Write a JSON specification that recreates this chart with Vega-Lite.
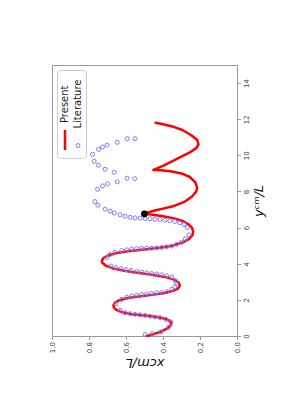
{
  "$schema": "https://vega.github.io/schema/vega-lite/v6.json",
  "width": 185,
  "height": 271,
  "autosize": {"type": "none"},
  "padding": {"left": 52, "top": 65, "right": 53, "bottom": 74},
  "background": "white",
  "config": {
    "view": {"stroke": "#999", "strokeWidth": 1},
    "axis": {
      "grid": false,
      "domainColor": "#999",
      "tickColor": "#999",
      "tickSize": 3.5,
      "labelFont": "DejaVu Sans",
      "labelFontSize": 7,
      "labelColor": "#444",
      "labelPadding": 2,
      "titleFont": "DejaVu Sans",
      "titleFontSize": 13,
      "titleFontStyle": "italic",
      "titleFontWeight": "normal",
      "titleColor": "#111"
    }
  },
  "datasets": {
    "present": [
      {"k": 0, "x": 0.49, "y": 0.0, "s": "Present"},
      {"k": 1, "x": 0.45, "y": 0.10, "s": "Present"},
      {"k": 2, "x": 0.41, "y": 0.25, "s": "Present"},
      {"k": 3, "x": 0.375, "y": 0.42, "s": "Present"},
      {"k": 4, "x": 0.357, "y": 0.60, "s": "Present"},
      {"k": 5, "x": 0.355, "y": 0.72, "s": "Present"},
      {"k": 6, "x": 0.365, "y": 0.85, "s": "Present"},
      {"k": 7, "x": 0.39, "y": 0.96, "s": "Present"},
      {"k": 8, "x": 0.43, "y": 1.05, "s": "Present"},
      {"k": 9, "x": 0.50, "y": 1.13, "s": "Present"},
      {"k": 10, "x": 0.57, "y": 1.21, "s": "Present"},
      {"k": 11, "x": 0.62, "y": 1.31, "s": "Present"},
      {"k": 12, "x": 0.65, "y": 1.43, "s": "Present"},
      {"k": 13, "x": 0.665, "y": 1.57, "s": "Present"},
      {"k": 14, "x": 0.668, "y": 1.70, "s": "Present"},
      {"k": 15, "x": 0.66, "y": 1.85, "s": "Present"},
      {"k": 16, "x": 0.635, "y": 1.98, "s": "Present"},
      {"k": 17, "x": 0.59, "y": 2.10, "s": "Present"},
      {"k": 18, "x": 0.52, "y": 2.20, "s": "Present"},
      {"k": 19, "x": 0.45, "y": 2.29, "s": "Present"},
      {"k": 20, "x": 0.39, "y": 2.38, "s": "Present"},
      {"k": 21, "x": 0.345, "y": 2.50, "s": "Present"},
      {"k": 22, "x": 0.318, "y": 2.64, "s": "Present"},
      {"k": 23, "x": 0.309, "y": 2.80, "s": "Present"},
      {"k": 24, "x": 0.315, "y": 2.96, "s": "Present"},
      {"k": 25, "x": 0.34, "y": 3.12, "s": "Present"},
      {"k": 26, "x": 0.39, "y": 3.27, "s": "Present"},
      {"k": 27, "x": 0.46, "y": 3.39, "s": "Present"},
      {"k": 28, "x": 0.54, "y": 3.50, "s": "Present"},
      {"k": 29, "x": 0.61, "y": 3.61, "s": "Present"},
      {"k": 30, "x": 0.67, "y": 3.74, "s": "Present"},
      {"k": 31, "x": 0.71, "y": 3.90, "s": "Present"},
      {"k": 32, "x": 0.728, "y": 4.05, "s": "Present"},
      {"k": 33, "x": 0.73, "y": 4.18, "s": "Present"},
      {"k": 34, "x": 0.72, "y": 4.33, "s": "Present"},
      {"k": 35, "x": 0.695, "y": 4.47, "s": "Present"},
      {"k": 36, "x": 0.65, "y": 4.59, "s": "Present"},
      {"k": 37, "x": 0.58, "y": 4.70, "s": "Present"},
      {"k": 38, "x": 0.50, "y": 4.79, "s": "Present"},
      {"k": 39, "x": 0.42, "y": 4.88, "s": "Present"},
      {"k": 40, "x": 0.35, "y": 5.00, "s": "Present"},
      {"k": 41, "x": 0.295, "y": 5.17, "s": "Present"},
      {"k": 42, "x": 0.258, "y": 5.38, "s": "Present"},
      {"k": 43, "x": 0.24, "y": 5.60, "s": "Present"},
      {"k": 44, "x": 0.237, "y": 5.78, "s": "Present"},
      {"k": 45, "x": 0.243, "y": 5.98, "s": "Present"},
      {"k": 46, "x": 0.26, "y": 6.17, "s": "Present"},
      {"k": 47, "x": 0.29, "y": 6.35, "s": "Present"},
      {"k": 48, "x": 0.34, "y": 6.51, "s": "Present"},
      {"k": 49, "x": 0.40, "y": 6.63, "s": "Present"},
      {"k": 50, "x": 0.455, "y": 6.71, "s": "Present"},
      {"k": 51, "x": 0.50, "y": 6.76, "s": "Present"},
      {"k": 52, "x": 0.455, "y": 6.92, "s": "Present"},
      {"k": 53, "x": 0.40, "y": 7.05, "s": "Present"},
      {"k": 54, "x": 0.34, "y": 7.20, "s": "Present"},
      {"k": 55, "x": 0.285, "y": 7.42, "s": "Present"},
      {"k": 56, "x": 0.243, "y": 7.72, "s": "Present"},
      {"k": 57, "x": 0.22, "y": 8.00, "s": "Present"},
      {"k": 58, "x": 0.215, "y": 8.20, "s": "Present"},
      {"k": 59, "x": 0.225, "y": 8.50, "s": "Present"},
      {"k": 60, "x": 0.255, "y": 8.80, "s": "Present"},
      {"k": 61, "x": 0.30, "y": 9.00, "s": "Present"},
      {"k": 62, "x": 0.36, "y": 9.12, "s": "Present"},
      {"k": 63, "x": 0.41, "y": 9.17, "s": "Present"},
      {"k": 64, "x": 0.452, "y": 9.19, "s": "Present"},
      {"k": 65, "x": 0.40, "y": 9.42, "s": "Present"},
      {"k": 66, "x": 0.33, "y": 9.78, "s": "Present"},
      {"k": 67, "x": 0.26, "y": 10.13, "s": "Present"},
      {"k": 68, "x": 0.22, "y": 10.40, "s": "Present"},
      {"k": 69, "x": 0.208, "y": 10.60, "s": "Present"},
      {"k": 70, "x": 0.215, "y": 10.85, "s": "Present"},
      {"k": 71, "x": 0.245, "y": 11.10, "s": "Present"},
      {"k": 72, "x": 0.295, "y": 11.40, "s": "Present"},
      {"k": 73, "x": 0.35, "y": 11.60, "s": "Present"},
      {"k": 74, "x": 0.40, "y": 11.72, "s": "Present"},
      {"k": 75, "x": 0.44, "y": 11.80, "s": "Present"}
    ],
    "literature": [
      {"x": 0.497, "y": 0.08, "s": "Literature"},
      {"x": 0.458, "y": 0.13, "s": "Literature"},
      {"x": 0.411, "y": 0.22, "s": "Literature"},
      {"x": 0.370, "y": 0.50, "s": "Literature"},
      {"x": 0.357, "y": 0.77, "s": "Literature"},
      {"x": 0.384, "y": 0.92, "s": "Literature"},
      {"x": 0.416, "y": 1.02, "s": "Literature"},
      {"x": 0.443, "y": 1.05, "s": "Literature"},
      {"x": 0.470, "y": 1.09, "s": "Literature"},
      {"x": 0.497, "y": 1.14, "s": "Literature"},
      {"x": 0.524, "y": 1.18, "s": "Literature"},
      {"x": 0.551, "y": 1.20, "s": "Literature"},
      {"x": 0.578, "y": 1.24, "s": "Literature"},
      {"x": 0.605, "y": 1.29, "s": "Literature"},
      {"x": 0.632, "y": 1.42, "s": "Literature"},
      {"x": 0.654, "y": 1.79, "s": "Literature"},
      {"x": 0.623, "y": 2.03, "s": "Literature"},
      {"x": 0.596, "y": 2.15, "s": "Literature"},
      {"x": 0.569, "y": 2.21, "s": "Literature"},
      {"x": 0.542, "y": 2.25, "s": "Literature"},
      {"x": 0.515, "y": 2.29, "s": "Literature"},
      {"x": 0.488, "y": 2.32, "s": "Literature"},
      {"x": 0.461, "y": 2.36, "s": "Literature"},
      {"x": 0.434, "y": 2.39, "s": "Literature"},
      {"x": 0.407, "y": 2.41, "s": "Literature"},
      {"x": 0.380, "y": 2.45, "s": "Literature"},
      {"x": 0.353, "y": 2.58, "s": "Literature"},
      {"x": 0.336, "y": 2.71, "s": "Literature"},
      {"x": 0.328, "y": 2.93, "s": "Literature"},
      {"x": 0.332, "y": 3.05, "s": "Literature"},
      {"x": 0.353, "y": 3.26, "s": "Literature"},
      {"x": 0.380, "y": 3.34, "s": "Literature"},
      {"x": 0.407, "y": 3.39, "s": "Literature"},
      {"x": 0.434, "y": 3.43, "s": "Literature"},
      {"x": 0.461, "y": 3.46, "s": "Literature"},
      {"x": 0.488, "y": 3.50, "s": "Literature"},
      {"x": 0.515, "y": 3.54, "s": "Literature"},
      {"x": 0.542, "y": 3.57, "s": "Literature"},
      {"x": 0.573, "y": 3.63, "s": "Literature"},
      {"x": 0.600, "y": 3.67, "s": "Literature"},
      {"x": 0.627, "y": 3.72, "s": "Literature"},
      {"x": 0.654, "y": 3.78, "s": "Literature"},
      {"x": 0.682, "y": 3.87, "s": "Literature"},
      {"x": 0.704, "y": 4.33, "s": "Literature"},
      {"x": 0.686, "y": 4.51, "s": "Literature"},
      {"x": 0.659, "y": 4.64, "s": "Literature"},
      {"x": 0.623, "y": 4.73, "s": "Literature"},
      {"x": 0.596, "y": 4.77, "s": "Literature"},
      {"x": 0.569, "y": 4.81, "s": "Literature"},
      {"x": 0.542, "y": 4.83, "s": "Literature"},
      {"x": 0.515, "y": 4.85, "s": "Literature"},
      {"x": 0.488, "y": 4.86, "s": "Literature"},
      {"x": 0.461, "y": 4.86, "s": "Literature"},
      {"x": 0.434, "y": 4.88, "s": "Literature"},
      {"x": 0.407, "y": 4.90, "s": "Literature"},
      {"x": 0.380, "y": 4.93, "s": "Literature"},
      {"x": 0.353, "y": 4.98, "s": "Literature"},
      {"x": 0.327, "y": 5.07, "s": "Literature"},
      {"x": 0.300, "y": 5.19, "s": "Literature"},
      {"x": 0.279, "y": 5.38, "s": "Literature"},
      {"x": 0.259, "y": 5.60, "s": "Literature"},
      {"x": 0.269, "y": 6.01, "s": "Literature"},
      {"x": 0.286, "y": 6.17, "s": "Literature"},
      {"x": 0.309, "y": 6.27, "s": "Literature"},
      {"x": 0.336, "y": 6.34, "s": "Literature"},
      {"x": 0.363, "y": 6.38, "s": "Literature"},
      {"x": 0.390, "y": 6.41, "s": "Literature"},
      {"x": 0.416, "y": 6.45, "s": "Literature"},
      {"x": 0.443, "y": 6.46, "s": "Literature"},
      {"x": 0.470, "y": 6.49, "s": "Literature"},
      {"x": 0.497, "y": 6.50, "s": "Literature"},
      {"x": 0.524, "y": 6.52, "s": "Literature"},
      {"x": 0.551, "y": 6.54, "s": "Literature"},
      {"x": 0.578, "y": 6.57, "s": "Literature"},
      {"x": 0.605, "y": 6.63, "s": "Literature"},
      {"x": 0.632, "y": 6.71, "s": "Literature"},
      {"x": 0.663, "y": 6.81, "s": "Literature"},
      {"x": 0.686, "y": 6.91, "s": "Literature"},
      {"x": 0.713, "y": 7.02, "s": "Literature"},
      {"x": 0.752, "y": 7.24, "s": "Literature"},
      {"x": 0.768, "y": 7.44, "s": "Literature"},
      {"x": 0.754, "y": 8.12, "s": "Literature"},
      {"x": 0.727, "y": 8.31, "s": "Literature"},
      {"x": 0.700, "y": 8.42, "s": "Literature"},
      {"x": 0.647, "y": 8.53, "s": "Literature"},
      {"x": 0.594, "y": 8.73, "s": "Literature"},
      {"x": 0.553, "y": 8.71, "s": "Literature"},
      {"x": 0.664, "y": 9.06, "s": "Literature"},
      {"x": 0.713, "y": 9.23, "s": "Literature"},
      {"x": 0.749, "y": 9.45, "s": "Literature"},
      {"x": 0.772, "y": 9.67, "s": "Literature"},
      {"x": 0.781, "y": 10.06, "s": "Literature"},
      {"x": 0.749, "y": 10.33, "s": "Literature"},
      {"x": 0.727, "y": 10.46, "s": "Literature"},
      {"x": 0.702, "y": 10.57, "s": "Literature"},
      {"x": 0.647, "y": 10.72, "s": "Literature"},
      {"x": 0.593, "y": 10.92, "s": "Literature"},
      {"x": 0.551, "y": 10.92, "s": "Literature"}
    ],
    "dot": [
      {"x": 0.50, "y": 6.76}
    ]
  },
  "layer": [
    {
      "data": {"name": "present"},
      "mark": {"type": "line", "strokeWidth": 2.5, "strokeCap": "round", "strokeJoin": "round"},
      "encoding": {
        "x": {
          "field": "x", "type": "quantitative",
          "scale": {"domain": [0, 1], "reverse": true, "nice": false, "zero": false},
          "axis": {
            "title": "xcm/L",
            "values": [0, 0.2, 0.4, 0.6, 0.8, 1.0],
            "tickCount": 20,
            "format": ".1f",
            "labelOverlap": false,
            "labelFlush": false,
            "labelAngle": 270,
            "labelAlign": "right",
            "labelBaseline": "middle",
            "titleAngle": 180,
            "titleBaseline": "bottom",
            "titlePadding": 3
          }
        },
        "y": {
          "field": "y", "type": "quantitative",
          "scale": {"domain": [0, 15], "nice": false, "zero": false},
          "axis": {
            "orient": "right",
            "title": "yᶜᵐ/L",
            "values": [0, 2, 4, 6, 8, 10, 12, 14],
            "tickCount": 20,
            "labelOverlap": false,
            "labelFlush": false,
            "labelAngle": 270,
            "labelAlign": "center",
            "labelBaseline": "top",
            "titleAngle": 270,
            "titleBaseline": "top",
            "titlePadding": 3
          }
        },
        "order": {"field": "k", "type": "quantitative"},
        "color": {
          "field": "s", "type": "nominal",
          "scale": {"domain": ["Present", "Literature"], "range": ["#ff0000", "#7b7bff"]},
          "legend": {
            "title": null,
            "orient": "top-left",
            "offset": 4.5,
            "direction": "horizontal",
            "columns": 2,
            "symbolSize": 400,
            "symbolType": "M0,-1L0,1",
            "symbolStrokeWidth": 2.5,
            "labelFont": "DejaVu Sans",
            "labelFontSize": 10,
            "labelColor": "#222",
            "labelAlign": "left",
            "labelBaseline": "middle",
            "labelOffset": -10,
            "padding": 3,
            "columnPadding": 2,
            "fillColor": "white",
            "strokeColor": "#ccc",
            "cornerRadius": 3,
            "encoding": {
              "labels": {
                "angle": {"value": 270},
                "align": {"value": "left"},
                "baseline": {"value": "middle"},
                "x": {"value": 5},
                "y": {"value": 50}
              },
              "symbols": {
                "shape": {"value": {"expr": "datum.value === 'Literature' ? 'circle' : 'M0,-1L0,1'"}},
                "size": {"value": {"expr": "datum.value === 'Literature' ? 16 : 400"}},
                "strokeWidth": {"value": {"expr": "datum.value === 'Literature' ? 1 : 2.5"}},
                "fill": {"value": "transparent"},
                "x": {"value": 5},
                "y": {"value": 67}
              }
            }
          }
        }
      }
    },
    {
      "data": {"name": "literature"},
      "mark": {"type": "point", "filled": false, "size": 16, "strokeWidth": 1, "opacity": 1},
      "encoding": {
        "x": {"field": "x", "type": "quantitative"},
        "y": {"field": "y", "type": "quantitative"},
        "color": {"field": "s", "type": "nominal", "legend": null}
      }
    },
    {
      "data": {"name": "dot"},
      "mark": {"type": "circle", "size": 48, "color": "black", "opacity": 1},
      "encoding": {
        "x": {"field": "x", "type": "quantitative"},
        "y": {"field": "y", "type": "quantitative"}
      }
    }
  ]
}
